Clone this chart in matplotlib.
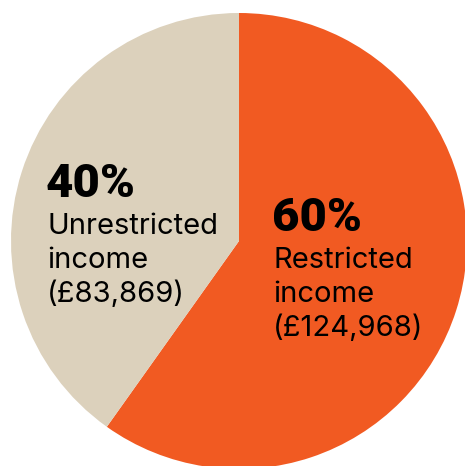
import matplotlib
matplotlib.use("Agg")
import matplotlib.pyplot as plt

# 데이터
labels = ["Restricted\nincome", "Unrestricted\nincome"]
amounts = [124968, 83869]
colors = ["#F15A22", "#DCD1BC"]

W, H = 465, 466
fig = plt.figure(figsize=(W / 100, H / 100), dpi=100)
ax = fig.add_axes([0, 0, 1, 1])

# 파이 (위에서 시작, 시계 방향)
ax.pie(amounts, colors=colors, startangle=90, counterclock=False,
       center=(239, H - 241), radius=228, frame=True,
       wedgeprops=dict(linewidth=0, antialiased=True))
ax.set_xlim(0, W)
ax.set_ylim(0, H)
ax.set_aspect("equal")
ax.axis("off")

total = sum(amounts)
# 라벨 위치 (픽셀, 위에서부터 baseline)
label_pos = [(273, 231), (47, 197)]
for (x, y), lab, amt in zip(label_pos, labels, amounts):
    pct = round(amt / total * 100)
    ax.text(x - 1, H - y, f"{pct}%", fontsize=34, fontweight="heavy",
            family="Roboto", va="baseline", ha="left", color="black")
    lines = lab.split("\n") + [f"(£{amt:,})"]
    for i, line in enumerate(lines):
        ax.text(x, H - (y + 37 + 34 * i), line, fontsize=21, family="Inter",
                va="baseline", ha="left", color="black")

fig.savefig("out.png", dpi=100)
